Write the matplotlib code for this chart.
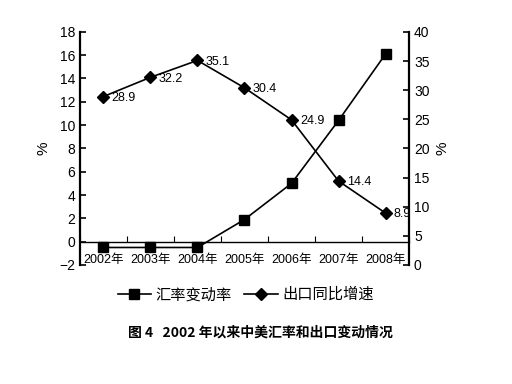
import matplotlib.pyplot as plt

plt.rcParams['font.family'] = ['Liberation Sans', 'Noto Sans CJK SC']

years = ['2002年', '2003年', '2004年', '2005年', '2006年', '2007年', '2008年']
rate_change = [-0.5, -0.5, -0.5, 1.9, 5.0, 10.4, 16.1]
export_growth = [28.9, 32.2, 35.1, 30.4, 24.9, 14.4, 8.9]

fig = plt.figure(figsize=(5.12, 3.84), dpi=100)
ax = fig.add_axes([0.156, 0.31, 0.643, 0.607])
ax2 = ax.twinx()

x = [i + 0.5 for i in range(len(years))]

l1, = ax.plot(x, rate_change, color='black', lw=1.2, marker='s', ms=7, label='汇率变动率')
l2, = ax2.plot(x, export_growth, color='black', lw=1.2, marker='D', ms=6, label='出口同比增速')

for xi, v in zip(x, export_growth):
    ax2.annotate(f'{v}', (xi, v), xytext=(6, -1), textcoords='offset points',
                 fontsize=9, va='center', ha='left')

ax.set_xlim(0, 7)
ax.set_ylim(-2, 18)
ax.set_yticks(range(-2, 19, 2))
ax2.set_ylim(0, 40)
ax2.set_yticks(range(0, 41, 5))

for a in (ax, ax2):
    a.spines['top'].set_visible(False)
ax.spines['right'].set_visible(False)
ax2.spines['bottom'].set_visible(False)
ax2.spines['left'].set_visible(False)
ax.spines['left'].set_linewidth(1.6)
ax2.spines['right'].set_linewidth(1.6)
ax.spines['bottom'].set_position(('data', 0))
ax.spines['bottom'].set_linewidth(1.0)

ax.set_xticks(range(8))
ax.set_xticklabels([])
ax.set_xticks(x, minor=True)
ax.set_xticklabels(years, minor=True)
ax.tick_params(axis='x', which='major', direction='in', length=4)
ax.tick_params(axis='x', which='minor', length=0, labelsize=9, pad=9)
ax.tick_params(axis='y', direction='in', length=4, width=1.2, labelsize=10)
ax2.tick_params(axis='y', direction='in', length=4, width=1.2, labelsize=10)

ax.set_ylabel('%', fontsize=11, labelpad=6)
ax2.set_ylabel('%', fontsize=11, labelpad=4)

fig.legend(handles=[l1, l2], loc='center', bbox_to_anchor=(0.48, 0.232), ncol=2,
           frameon=False, fontsize=11, handlelength=2.2, handletextpad=0.3,
           columnspacing=0.8)
fig.text(0.508, 0.135, '图 4   2002 年以来中美汇率和出口变动情况', ha='center', va='center',
         fontsize=10, fontweight='bold', family=['Noto Sans CJK SC'])

fig.savefig('out.png', dpi=100)
